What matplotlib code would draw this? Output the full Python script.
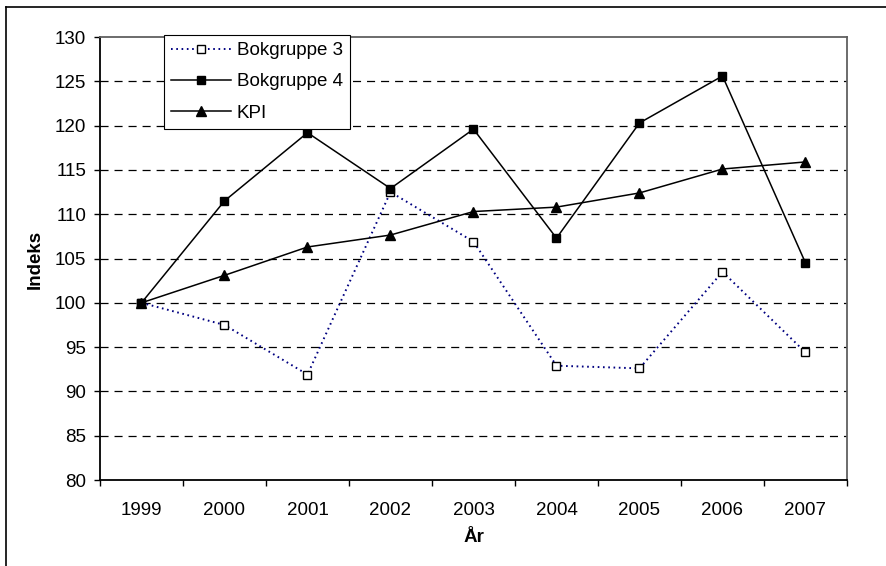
import matplotlib
matplotlib.use("Agg")
import matplotlib.pyplot as plt
from matplotlib.lines import Line2D
from matplotlib.ticker import FixedLocator, NullFormatter

years = ["1999", "2000", "2001", "2002", "2003", "2004", "2005", "2006", "2007"]
bokgruppe3 = [100, 97.5, 91.9, 112.5, 106.9, 92.9, 92.6, 103.5, 94.4]
bokgruppe4 = [100, 111.5, 119.2, 112.9, 119.6, 107.3, 120.3, 125.6, 104.5]
kpi = [100, 103.1, 106.3, 107.65, 110.3, 110.8, 112.4, 115.1, 115.9]
yticks = [80, 85, 90, 95, 100, 105, 110, 115, 120, 125, 130]

plt.rcParams['font.family'] = ['Liberation Sans', 'DejaVu Sans']
plt.rcParams['lines.scale_dashes'] = False
FS = 13.5

W, H = 887, 566
fig = plt.figure(figsize=(W / 100, H / 100), dpi=100)
ax = fig.add_axes([100 / W, 1 - 480 / H, 747 / W, 443 / H])

x = list(range(len(years)))

ax.plot(x, bokgruppe3, color='#000080', linestyle=(0, (1.2, 2.6)), linewidth=1.4,
        marker='s', markersize=5.2, markerfacecolor='white', markeredgecolor='black',
        markeredgewidth=1.0, label='Bokgruppe 3', zorder=3)
ax.plot(x, bokgruppe4, color='black', linestyle='-', linewidth=1.1,
        marker='s', markersize=5.8, markerfacecolor='black', markeredgecolor='black',
        label='Bokgruppe 4', zorder=3)
ax.plot(x, kpi, color='black', linestyle='-', linewidth=1.1,
        marker='^', markersize=7.5, markerfacecolor='black', markeredgecolor='black',
        label='KPI', zorder=3)

ax.set_xlim(-0.5, len(years) - 0.5)
ax.set_ylim(80, 130)
ax.set_yticks(yticks)
ax.set_yticklabels([str(v) for v in yticks])
for v in yticks[1:-1]:
    ax.axhline(v, color='black', linewidth=0.9, linestyle=(0, (5.8, 4.3)), zorder=1)

ax.xaxis.set_major_locator(FixedLocator([i - 0.5 for i in range(len(years) + 1)]))
ax.xaxis.set_major_formatter(NullFormatter())
ax.xaxis.set_minor_locator(FixedLocator(x))
ax.set_xticklabels(years, minor=True)
ax.tick_params(axis='x', which='major', length=4, width=1, direction='out', color='black')
ax.tick_params(axis='x', which='minor', length=0, pad=15.5, labelsize=FS)
ax.tick_params(axis='y', which='major', length=4, width=1, direction='out', pad=6, labelsize=FS)

for s in ['left', 'bottom']:
    ax.spines[s].set_color('black')
    ax.spines[s].set_linewidth(1.3)
for s in ['top', 'right']:
    ax.spines[s].set_color('#606060')
    ax.spines[s].set_linewidth(1.3)

fig.text(35 / W, 1 - 259 / H, 'Indeks', rotation=90, ha='center', va='center',
         fontsize=FS, fontweight='bold')
fig.text(474 / W, 1 - 538 / H, 'År', ha='center', va='center',
         fontsize=FS, fontweight='bold')

leg = ax.legend(loc='upper left', bbox_to_anchor=(164 / W, 1 - 35 / H),
                bbox_transform=fig.transFigure, borderaxespad=0, fontsize=FS,
                frameon=True, fancybox=False, framealpha=1, edgecolor='black',
                handlelength=3.2, handletextpad=0.3, labelspacing=0.75,
                borderpad=0.38)
leg.get_frame().set_linewidth(0.8)
leg.set_zorder(5)

fig.add_artist(Line2D([6 / W, 6 / W], [0, 1 - 7 / H], color='black', linewidth=1.2,
                      transform=fig.transFigure))
fig.add_artist(Line2D([6 / W, 1], [1 - 7 / H, 1 - 7 / H], color='black', linewidth=1.2,
                      transform=fig.transFigure))

fig.savefig('out.png', dpi=100)
